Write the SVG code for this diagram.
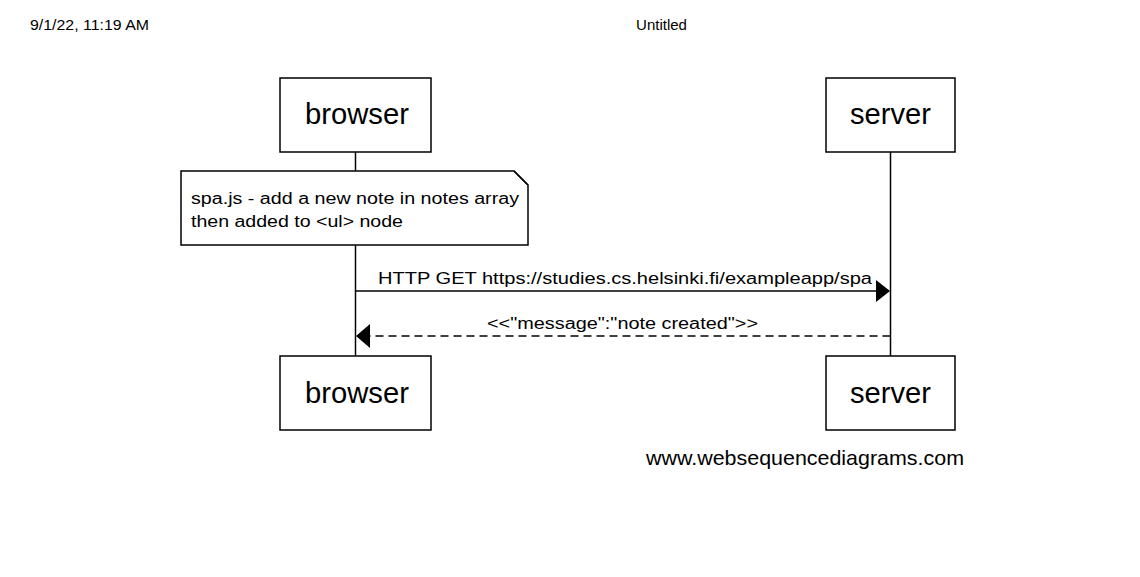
<svg xmlns="http://www.w3.org/2000/svg" width="1140" height="577" viewBox="0 0 1140 577">
<style>
  text { font-family: "Liberation Sans", Arial, sans-serif; fill: #000; }
  .box { fill: #fff; stroke: #000; stroke-width: 1.5; }
  .life { stroke: #000; stroke-width: 1.5; fill: none; }
  .msg { stroke: #000; stroke-width: 1.5; fill: none; }
  .dash { stroke-dasharray: 8 5; }
  .head { fill: #000; stroke: none; }
  .actor { font-size: 29px; }
  .lbl { font-size: 16px; }
</style>
<rect width="1140" height="577" fill="#fff"/>
<text x="30" y="30" font-size="15" textLength="119" lengthAdjust="spacingAndGlyphs">9/1/22, 11:19 AM</text>
<text x="661.5" y="30" font-size="15" text-anchor="middle">Untitled</text>

<g id="connectors">
  <line class="life" x1="355.5" y1="152" x2="355.5" y2="356"/>
  <line class="life" x1="890.5" y1="152" x2="890.5" y2="356"/>
  <line class="msg" x1="355.5" y1="291" x2="878" y2="291"/>
  <polygon class="head" points="890,291 876,280 876,302"/>
  <text class="lbl" x="378" y="284" textLength="494" lengthAdjust="spacingAndGlyphs">HTTP GET https://studies.cs.helsinki.fi/exampleapp/spa</text>
  <line class="msg dash" x1="890.5" y1="336" x2="368" y2="336"/>
  <polygon class="head" points="356,336 370,324 370,348"/>
  <text class="lbl" x="487" y="329" textLength="271" lengthAdjust="spacingAndGlyphs">&lt;&lt;"message":"note created"&gt;&gt;</text>
</g>

<g id="browser-top">
  <rect class="box" x="280" y="78" width="151" height="74"/>
  <text class="actor" x="305" y="124" textLength="104" lengthAdjust="spacingAndGlyphs">browser</text>
</g>
<g id="server-top">
  <rect class="box" x="826" y="78" width="129" height="74"/>
  <text class="actor" x="850" y="124" textLength="81" lengthAdjust="spacingAndGlyphs">server</text>
</g>
<g id="note">
  <path class="box" d="M181,171 H514 L528,185 V245 H181 Z"/>
  <path d="M514,171 L528,185" stroke="#000" stroke-width="1.5" fill="none"/>
  <text class="lbl" x="191" y="204" textLength="328" lengthAdjust="spacingAndGlyphs">spa.js - add a new note in notes array</text>
  <text class="lbl" x="191" y="227" textLength="212" lengthAdjust="spacingAndGlyphs">then added to &lt;ul&gt; node</text>
</g>
<g id="browser-bottom">
  <rect class="box" x="280" y="356" width="151" height="74"/>
  <text class="actor" x="305" y="403" textLength="104" lengthAdjust="spacingAndGlyphs">browser</text>
</g>
<g id="server-bottom">
  <rect class="box" x="826" y="356" width="129" height="74"/>
  <text class="actor" x="850" y="403" textLength="81" lengthAdjust="spacingAndGlyphs">server</text>
</g>
<text x="646" y="465" font-size="21" textLength="318" lengthAdjust="spacingAndGlyphs">www.websequencediagrams.com</text>
</svg>
